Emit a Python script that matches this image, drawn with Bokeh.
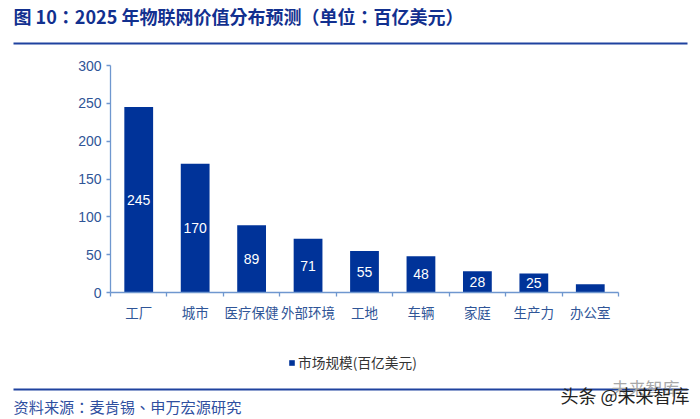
from bokeh.plotting import figure
from bokeh.layouts import column
from bokeh.models import ColumnDataSource, FixedTicker, Label, BoxAnnotation, Legend, LegendItem, Range1d
from bokeh.core.properties import value
from bokeh.embed import file_html
from bokeh.resources import INLINE

categories = ["工厂", "城市", "医疗保健", "外部环境", "工地", "车辆", "家庭", "生产力", "办公室"]
values = [245, 170, 89, 71, 55, 48, 28, 25, 11]
bar_labels = ["245", "170", "89", "71", "55", "48", "28", "25", ""]
y_ticks = [0, 50, 100, 150, 200, 250, 300]
series_name = "市场规模(百亿美元)"
title_text = "图 10：2025 年物联网价值分布预测（单位：百亿美元）"
source_text = "资料来源：麦肯锡、申万宏源研究"

W = 700
H_TOP, H_MAIN, H_FOOT = 50, 295, 74
BLUE = "#003399"
AXIS = "#6f97cf"
TICKTXT = "#2f5597"
RULE = "#1f429f"
CJK = "Noto Sans CJK SC"
CJK_TC = "Noto Sans CJK TC"
LATIN = "Liberation Sans"

n = len(categories)
centers = [i + 0.5 for i in range(n)]
src = ColumnDataSource(dict(x=centers, top=values, mid=[v / 2 for v in values], lab=bar_labels))

p = figure(width=W, height=H_MAIN, output_backend="svg", toolbar_location=None,
           x_range=Range1d(0, n), y_range=Range1d(0, 300), frame_align=False,
           min_border_left=110, min_border_right=82, min_border_top=15, min_border_bottom=53)
p.outline_line_color = None
p.grid.visible = False

p.vbar(x="x", top="top", width=0.51, bottom=0, source=src, fill_color=BLUE, line_color=None)
p.text(x="x", y="mid", text="lab", source=src, text_color="white", text_align="center",
       text_baseline="middle", text_font=value(LATIN), text_font_size="14px")

ax = p.xaxis[0]
ax.ticker = FixedTicker(ticks=centers, minor_ticks=list(range(n + 1)))
ax.major_label_overrides = {c: t for c, t in zip(centers, categories)}
ax.major_tick_line_color = None
ax.minor_tick_line_color = AXIS
ax.minor_tick_in = 0
ax.minor_tick_out = 4
ax.axis_line_color = AXIS
ax.axis_line_width = 1.3
ax.minor_tick_line_width = 1.3
ax.major_label_text_font = CJK
ax.major_label_text_font_size = "13.5px"
ax.major_label_text_color = TICKTXT
ax.major_label_standoff = 3

ay = p.yaxis[0]
ay.ticker = FixedTicker(ticks=y_ticks, minor_ticks=[])
ay.major_tick_in = 0
ay.major_tick_out = 4
ay.major_tick_line_color = AXIS
ay.axis_line_color = AXIS
ay.axis_line_width = 1.3
ay.major_tick_line_width = 1.3
ay.major_label_text_font = LATIN
ay.major_label_text_font_size = "14px"
ay.major_label_text_color = TICKTXT
ay.major_label_standoff = 5


def blank(h):
    f = figure(width=W, height=h, output_backend="svg", toolbar_location=None, frame_align=False,
               x_axis_location=None, y_axis_location=None, min_border=0,
               x_range=Range1d(0, W), y_range=Range1d(0, h))
    f.outline_line_color = None
    f.grid.visible = False
    return f


def rule(f, y):
    f.add_layout(BoxAnnotation(left=13, right=687, top=y + 1, bottom=y - 1,
                               left_units="screen", right_units="screen", top_units="screen", bottom_units="screen",
                               fill_color=RULE, fill_alpha=1, line_color=None))


top = blank(H_TOP)
top.add_layout(Label(x=13, y=H_TOP - 15, x_units="screen", y_units="screen", text=title_text,
                     text_font=CJK_TC, text_font_size="18px", text_font_style="bold",
                     text_color="#12308f", text_baseline="middle"))
rule(top, H_TOP - 43)

foot = blank(H_FOOT)
marker = foot.vbar(x=[float("nan")], top=[float("nan")], width=1, fill_color=BLUE, line_color=None)
foot.add_layout(Legend(items=[LegendItem(label=series_name, renderers=[marker])],
                       location=(288, 419 - 372), border_line_color=None, background_fill_alpha=0,
                       glyph_width=7, glyph_height=7, label_text_font=CJK, label_text_font_size="13.7px",
                       label_text_color="#333333", padding=0, margin=0, label_standoff=3))


def foot_label(x, y_page, **kw):
    return Label(x=x, y=419 - y_page, x_units="screen", y_units="screen", text_baseline="middle", **kw)


rule(foot, 419 - 389)
foot.add_layout(foot_label(13, 405, text=source_text, text_font=CJK_TC, text_font_size="15.2px", text_color="#2f4f9f"))
foot.add_layout(foot_label(611, 387, text="未来智库", text_font=CJK, text_font_size="17px", text_color="#a8a8a8"))
foot.add_layout(foot_label(560, 394, text="头条 @未来智库", text_font=CJK, text_font_size="18px", text_color="#222222"))

open("out.html", "w").write(file_html(column(top, p, foot, spacing=0), INLINE))
